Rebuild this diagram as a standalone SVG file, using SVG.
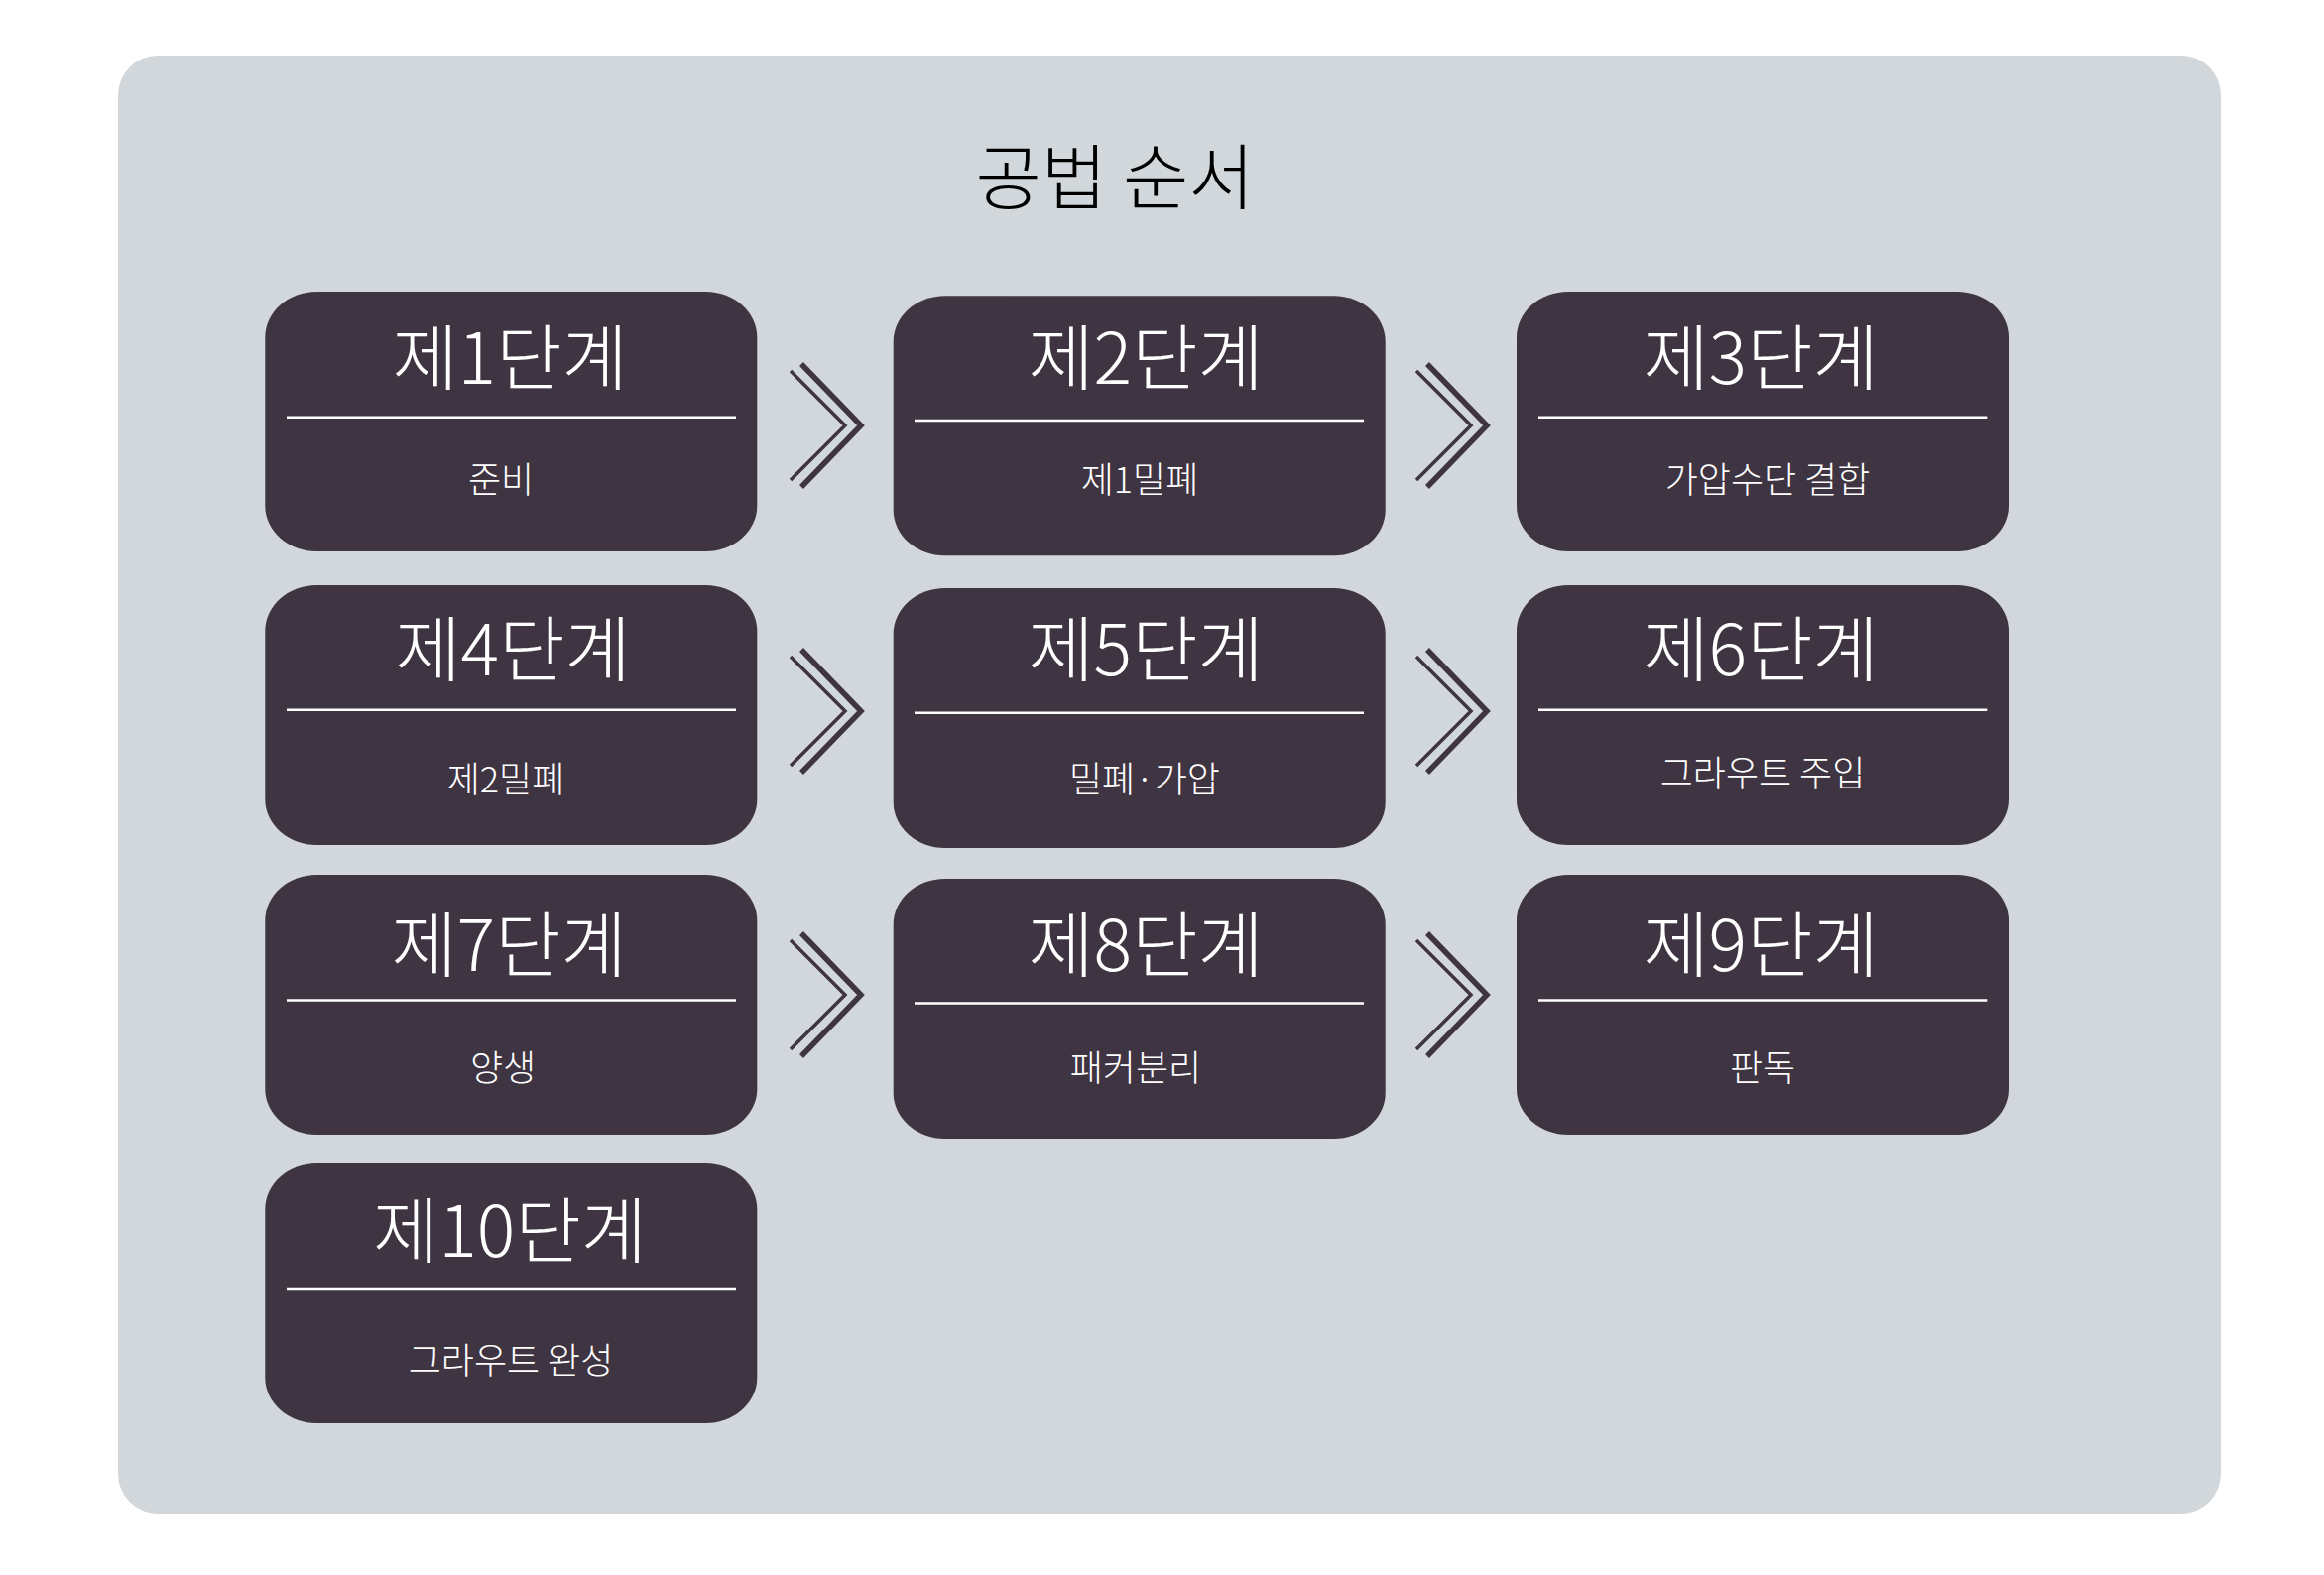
<svg xmlns="http://www.w3.org/2000/svg" width="2343" height="1588" viewBox="0 0 2343 1588">
  <style>
    .node { fill: #3F3442; }
    .div { stroke: #FFFFFF; stroke-width: 2.5; }
    .title { font-family: "Noto Sans CJK KR", "Noto Sans", sans-serif; font-weight: 300; font-size: 72px; fill: #FFFFFF; text-anchor: middle; }
    .sub { font-family: "Noto Sans CJK KR", "Noto Sans", sans-serif; font-weight: 300; font-size: 36px; fill: #FFFFFF; text-anchor: middle; }
    .main { font-family: "Noto Sans CJK KR", "Noto Sans", sans-serif; font-weight: 300; font-size: 72px; fill: #000000; text-anchor: middle; }
    .chev-o { fill: none; stroke: #3F3442; stroke-width: 5.5; stroke-linejoin: miter; stroke-miterlimit: 10; }
    .chev-i { fill: none; stroke: #3F3442; stroke-width: 3.5; stroke-linejoin: miter; stroke-miterlimit: 10; }
  </style>
  <defs>
    <g id="chev">
      <path class="chev-o" d="M808,-62 L868,0 L808,62"/>
      <path class="chev-i" d="M797,-55 L852,0 L797,55"/>
    </g>
  </defs>
  <rect x="0" y="0" width="2343" height="1588" fill="#FFFFFF"/>
  <rect id="panel" x="119" y="56" width="2120" height="1470" rx="40" ry="40" fill="#D1D7DA"/>
  <text class="main" x="1124" y="205">공법 순서</text>

  <g id="connectors">
    <use href="#chev" transform="translate(0,429)"/>
    <use href="#chev" transform="translate(631,429)"/>
    <use href="#chev" transform="translate(0,717)"/>
    <use href="#chev" transform="translate(631,717)"/>
    <use href="#chev" transform="translate(0,1003)"/>
    <use href="#chev" transform="translate(631,1003)"/>
  </g>

  <g id="step1">
    <rect class="node" x="267.3" y="294" width="496" height="262" rx="52" ry="46"/>
    <line class="div" x1="289" y1="420.7" x2="742" y2="420.7"/>
    <text class="title" x="514" y="387">제1단계</text>
    <text class="sub" x="505" y="497">준비</text>
  </g>
  <g id="step2">
    <rect class="node" x="900.7" y="298.3" width="496" height="262" rx="52" ry="46"/>
    <line class="div" x1="922" y1="424" x2="1375" y2="424"/>
    <text class="title" x="1155" y="387">제2단계</text>
    <text class="sub" x="1149" y="497">제1밀폐</text>
  </g>
  <g id="step3">
    <rect class="node" x="1529" y="294" width="496" height="262" rx="52" ry="46"/>
    <line class="div" x1="1551" y1="420.7" x2="2003.3" y2="420.7"/>
    <text class="title" x="1775" y="387">제3단계</text>
    <text class="sub" x="1782" y="497">가압수단 결합</text>
  </g>

  <g id="step4">
    <rect class="node" x="267.3" y="590" width="496" height="262" rx="52" ry="46"/>
    <line class="div" x1="289" y1="715.7" x2="742" y2="715.7"/>
    <text class="title" x="517" y="681">제4단계</text>
    <text class="sub" x="510" y="799">제2밀폐</text>
  </g>
  <g id="step5">
    <rect class="node" x="900.7" y="593" width="496" height="262" rx="52" ry="46"/>
    <line class="div" x1="922" y1="718.7" x2="1375" y2="718.7"/>
    <text class="title" x="1155" y="681">제5단계</text>
    <text class="sub" x="1154" y="799">밀폐·가압</text>
  </g>
  <g id="step6">
    <rect class="node" x="1529" y="590" width="496" height="262" rx="52" ry="46"/>
    <line class="div" x1="1551" y1="715.7" x2="2003.3" y2="715.7"/>
    <text class="title" x="1775" y="681">제6단계</text>
    <text class="sub" x="1777" y="793">그라우트 주입</text>
  </g>

  <g id="step7">
    <rect class="node" x="267.3" y="882" width="496" height="262" rx="52" ry="46"/>
    <line class="div" x1="289" y1="1008.6" x2="742" y2="1008.6"/>
    <text class="title" x="513" y="979">제7단계</text>
    <text class="sub" x="507" y="1090">양생</text>
  </g>
  <g id="step8">
    <rect class="node" x="900.7" y="886" width="496" height="262" rx="52" ry="46"/>
    <line class="div" x1="922" y1="1011.6" x2="1375" y2="1011.6"/>
    <text class="title" x="1155" y="979">제8단계</text>
    <text class="sub" x="1145" y="1090">패커분리</text>
  </g>
  <g id="step9">
    <rect class="node" x="1529" y="882" width="496" height="262" rx="52" ry="46"/>
    <line class="div" x1="1551" y1="1008.6" x2="2003.3" y2="1008.6"/>
    <text class="title" x="1775" y="979">제9단계</text>
    <text class="sub" x="1777" y="1090">판독</text>
  </g>

  <g id="step10">
    <rect class="node" x="267.3" y="1173" width="496" height="262" rx="52" ry="46"/>
    <line class="div" x1="289" y1="1300" x2="742" y2="1300"/>
    <text class="title" x="514" y="1267">제10단계</text>
    <text class="sub" x="515" y="1385">그라우트 완성</text>
  </g>
</svg>
